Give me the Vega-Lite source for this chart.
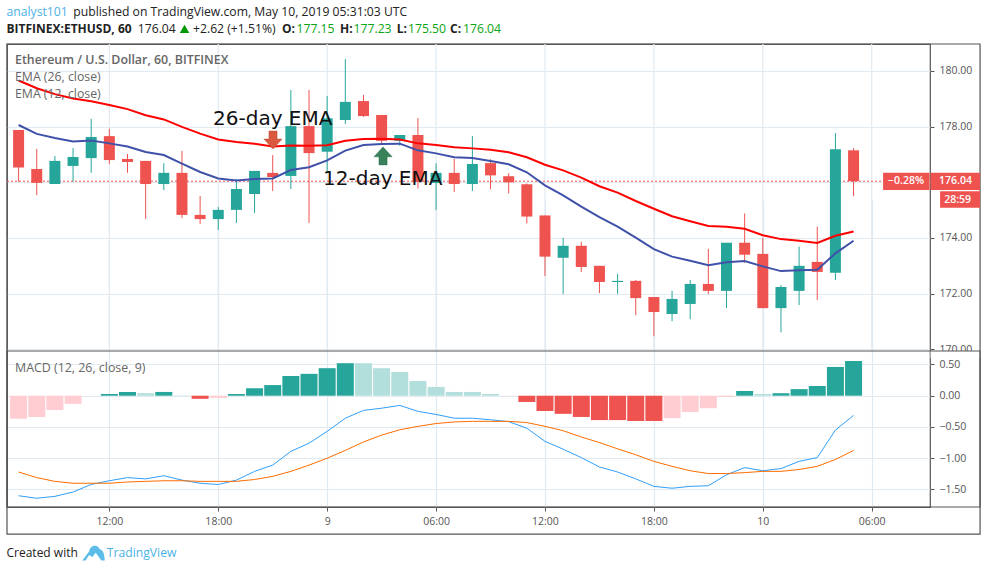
{"$schema":"https://vega.github.io/schema/vega-lite/v6.json","autosize":{"type":"none"},"width":923,"height":463,"padding":{"left":7,"top":44,"right":57,"bottom":64},"background":"white","config":{"view":{"stroke":"#555555","strokeWidth":1.2},"font":"Open Sans"},
"datasets":{
"hourly":[
{"h":7,"open":177.88,"close":176.53,"high":177.88,"low":176.02,"ema26":179.66,"ema12":178.06,"macd":-1.60,"signal":-1.22,"hist":-0.37,"phase":"rising-neg"},
{"h":8,"open":176.48,"close":175.98,"high":177.20,"low":175.54,"ema26":179.38,"ema12":177.74,"macd":-1.64,"signal":-1.31,"hist":-0.34,"phase":"rising-neg"},
{"h":9,"open":175.94,"close":176.77,"high":176.95,"low":175.94,"ema26":179.17,"ema12":177.59,"macd":-1.61,"signal":-1.37,"hist":-0.23,"phase":"rising-neg"},
{"h":10,"open":176.59,"close":176.91,"high":177.23,"low":176.02,"ema26":179.01,"ema12":177.47,"macd":-1.54,"signal":-1.40,"hist":-0.13,"phase":"rising-neg"},
{"h":11,"open":176.87,"close":177.63,"high":178.28,"low":176.34,"ema26":178.91,"ema12":177.50,"macd":-1.42,"signal":-1.40,"hist":0.0,"phase":"rising-neg"},
{"h":12,"open":177.66,"close":176.80,"high":177.92,"low":176.66,"ema26":178.78,"ema12":177.40,"macd":-1.36,"signal":-1.40,"hist":0.027,"phase":"rising-pos"},
{"h":13,"open":176.84,"close":176.73,"high":177.02,"low":176.34,"ema26":178.63,"ema12":177.29,"macd":-1.31,"signal":-1.38,"hist":0.06,"phase":"rising-pos"},
{"h":14,"open":176.77,"close":175.94,"high":176.77,"low":174.68,"ema26":178.41,"ema12":177.09,"macd":-1.33,"signal":-1.37,"hist":0.04,"phase":"falling-pos"},
{"h":15,"open":175.94,"close":176.34,"high":176.69,"low":175.72,"ema26":178.26,"ema12":176.98,"macd":-1.28,"signal":-1.36,"hist":0.06,"phase":"rising-pos"},
{"h":16,"open":176.34,"close":174.83,"high":177.13,"low":174.72,"ema26":177.99,"ema12":176.67,"macd":-1.35,"signal":-1.36,"hist":0.005,"phase":"falling-pos"},
{"h":17,"open":174.83,"close":174.68,"high":175.51,"low":174.50,"ema26":177.75,"ema12":176.37,"macd":-1.40,"signal":-1.37,"hist":-0.05,"phase":"falling-neg"},
{"h":18,"open":174.68,"close":175.01,"high":175.11,"low":174.29,"ema26":177.54,"ema12":176.14,"macd":-1.42,"signal":-1.37,"hist":-0.035,"phase":"rising-neg"},
{"h":19,"open":175.01,"close":175.76,"high":176.12,"low":174.54,"ema26":177.45,"ema12":176.07,"macd":-1.35,"signal":-1.37,"hist":0.027,"phase":"rising-pos"},
{"h":20,"open":175.58,"close":176.41,"high":176.41,"low":174.90,"ema26":177.39,"ema12":176.12,"macd":-1.21,"signal":-1.34,"hist":0.12,"phase":"rising-pos"},
{"h":21,"open":176.34,"close":176.19,"high":176.98,"low":175.69,"ema26":177.29,"ema12":176.14,"macd":-1.11,"signal":-1.29,"hist":0.17,"phase":"rising-pos"},
{"h":22,"open":176.23,"close":178.02,"high":179.32,"low":175.76,"ema26":177.32,"ema12":176.44,"macd":-0.89,"signal":-1.21,"hist":0.315,"phase":"rising-pos"},
{"h":23,"open":178.02,"close":177.05,"high":179.32,"low":174.54,"ema26":177.31,"ema12":176.54,"macd":-0.76,"signal":-1.11,"hist":0.35,"phase":"rising-pos"},
{"h":24,"open":177.10,"close":178.30,"high":179.10,"low":176.34,"ema26":177.33,"ema12":176.79,"macd":-0.57,"signal":-1.00,"hist":0.44,"phase":"rising-pos"},
{"h":25,"open":178.24,"close":178.89,"high":180.43,"low":178.10,"ema26":177.49,"ema12":177.14,"macd":-0.36,"signal":-0.875,"hist":0.52,"phase":"rising-pos"},
{"h":26,"open":178.92,"close":178.38,"high":179.14,"low":178.35,"ema26":177.56,"ema12":177.34,"macd":-0.235,"signal":-0.74,"hist":0.52,"phase":"falling-pos"},
{"h":27,"open":178.42,"close":177.49,"high":178.42,"low":177.38,"ema26":177.57,"ema12":177.38,"macd":-0.20,"signal":-0.63,"hist":0.44,"phase":"falling-pos"},
{"h":28,"open":177.49,"close":177.70,"high":177.70,"low":177.31,"ema26":177.54,"ema12":177.39,"macd":-0.155,"signal":-0.545,"hist":0.38,"phase":"falling-pos"},
{"h":29,"open":177.70,"close":176.02,"high":178.31,"low":175.78,"ema26":177.40,"ema12":177.15,"macd":-0.25,"signal":-0.49,"hist":0.235,"phase":"falling-pos"},
{"h":30,"open":175.98,"close":176.34,"high":176.68,"low":175.01,"ema26":177.34,"ema12":177.04,"macd":-0.30,"signal":-0.445,"hist":0.14,"phase":"falling-pos"},
{"h":31,"open":176.34,"close":175.94,"high":176.84,"low":175.65,"ema26":177.26,"ema12":176.90,"macd":-0.36,"signal":-0.42,"hist":0.06,"phase":"falling-pos"},
{"h":32,"open":175.94,"close":176.66,"high":177.66,"low":175.69,"ema26":177.22,"ema12":176.87,"macd":-0.36,"signal":-0.41,"hist":0.06,"phase":"falling-pos"},
{"h":33,"open":176.69,"close":176.25,"high":176.83,"low":175.75,"ema26":177.17,"ema12":176.77,"macd":-0.385,"signal":-0.41,"hist":0.027,"phase":"falling-pos"},
{"h":34,"open":176.22,"close":176.00,"high":176.33,"low":175.60,"ema26":177.08,"ema12":176.65,"macd":-0.415,"signal":-0.41,"hist":-0.003,"phase":"rising-neg"},
{"h":35,"open":175.93,"close":174.77,"high":175.96,"low":174.52,"ema26":176.90,"ema12":176.36,"macd":-0.52,"signal":-0.43,"hist":-0.10,"phase":"falling-neg"},
{"h":36,"open":174.81,"close":173.33,"high":174.81,"low":172.64,"ema26":176.63,"ema12":175.89,"macd":-0.73,"signal":-0.49,"hist":-0.245,"phase":"falling-neg"},
{"h":37,"open":173.29,"close":173.72,"high":174.01,"low":171.99,"ema26":176.43,"ema12":175.53,"macd":-0.855,"signal":-0.56,"hist":-0.29,"phase":"falling-neg"},
{"h":38,"open":173.72,"close":172.96,"high":173.87,"low":172.78,"ema26":176.17,"ema12":175.13,"macd":-0.99,"signal":-0.66,"hist":-0.34,"phase":"falling-neg"},
{"h":39,"open":173.00,"close":172.42,"high":173.00,"low":172.02,"ema26":175.86,"ema12":174.75,"macd":-1.14,"signal":-0.75,"hist":-0.39,"phase":"falling-neg"},
{"h":40,"open":172.42,"close":172.46,"high":172.71,"low":171.99,"ema26":175.63,"ema12":174.41,"macd":-1.22,"signal":-0.85,"hist":-0.39,"phase":"falling-neg"},
{"h":41,"open":172.46,"close":171.84,"high":172.49,"low":171.23,"ema26":175.33,"ema12":174.01,"macd":-1.33,"signal":-0.945,"hist":-0.405,"phase":"falling-neg"},
{"h":42,"open":171.88,"close":171.34,"high":171.88,"low":170.47,"ema26":175.05,"ema12":173.60,"macd":-1.45,"signal":-1.05,"hist":-0.405,"phase":"falling-neg"},
{"h":43,"open":171.27,"close":171.81,"high":172.10,"low":171.01,"ema26":174.78,"ema12":173.33,"macd":-1.48,"signal":-1.13,"hist":-0.36,"phase":"rising-neg"},
{"h":44,"open":171.63,"close":172.35,"high":172.49,"low":171.08,"ema26":174.60,"ema12":173.18,"macd":-1.45,"signal":-1.20,"hist":-0.26,"phase":"rising-neg"},
{"h":45,"open":172.35,"close":172.10,"high":173.61,"low":171.99,"ema26":174.43,"ema12":173.02,"macd":-1.44,"signal":-1.245,"hist":-0.20,"phase":"rising-neg"},
{"h":46,"open":172.10,"close":173.83,"high":173.83,"low":171.48,"ema26":174.40,"ema12":173.13,"macd":-1.265,"signal":-1.245,"hist":-0.02,"phase":"rising-neg"},
{"h":47,"open":173.83,"close":173.40,"high":174.88,"low":173.11,"ema26":174.33,"ema12":173.17,"macd":-1.15,"signal":-1.23,"hist":0.075,"phase":"rising-pos"},
{"h":48,"open":173.43,"close":171.48,"high":174.01,"low":171.48,"ema26":174.10,"ema12":172.98,"macd":-1.20,"signal":-1.21,"hist":0.027,"phase":"falling-pos"},
{"h":49,"open":171.48,"close":172.24,"high":172.31,"low":170.61,"ema26":173.96,"ema12":172.81,"macd":-1.165,"signal":-1.21,"hist":0.04,"phase":"rising-pos"},
{"h":50,"open":172.10,"close":173.00,"high":173.69,"low":171.59,"ema26":173.90,"ema12":172.84,"macd":-1.05,"signal":-1.18,"hist":0.105,"phase":"rising-pos"},
{"h":51,"open":173.14,"close":172.78,"high":174.41,"low":171.77,"ema26":173.82,"ema12":172.86,"macd":-0.99,"signal":-1.13,"hist":0.155,"phase":"rising-pos"},
{"h":52,"open":172.75,"close":177.19,"high":177.77,"low":172.49,"ema26":174.08,"ema12":173.45,"macd":-0.55,"signal":-1.02,"hist":0.46,"phase":"rising-pos"},
{"h":53,"open":177.15,"close":176.04,"high":177.23,"low":175.50,"ema26":174.23,"ema12":173.90,"macd":-0.315,"signal":-0.875,"hist":0.555,"phase":"rising-pos"}
],
"headerNormal":[
{"label":"analyst101","h":6.333,"p":182.12,"tone":"link"},
{"label":"published on TradingView.com, May 10, 2019 05:31:03 UTC","h":10.014,"p":182.12,"tone":"ink"},
{"label":"176.04","h":13.563,"p":181.51,"tone":"ink"},
{"label":"+2.62 (+1.51%)","h":16.609,"p":181.51,"tone":"ink"},
{"label":"177.15","h":22.311,"p":181.51,"tone":"quote"},
{"label":"177.23","h":25.453,"p":181.51,"tone":"quote"},
{"label":"175.50","h":28.454,"p":181.51,"tone":"quote"},
{"label":"176.04","h":31.484,"p":181.51,"tone":"quote"}
],
"headerBold":[
{"label":"BITFINEX:ETHUSD, 60","h":6.333,"p":181.51},
{"label":"O:","h":21.513,"p":181.51},
{"label":"H:","h":24.708,"p":181.51},
{"label":"L:","h":27.833,"p":181.51},
{"label":"C:","h":30.769,"p":181.51}
],
"legends":[
{"label":"EMA (26, close)","h":6.802,"p":179.78},
{"label":"EMA (12, close)","h":6.802,"p":179.17}
],
"notes":[
{"label":"26-day EMA","h":17.711,"p":178.28},
{"label":"12-day EMA","h":23.771,"p":176.12}
]
},
"encoding":{"x":{"field":"h","type":"quantitative","title":null,"scale":{"domain":[6.3611,57.2111],"nice":false,"zero":false,"padding":0},"axis":{"orient":"bottom","values":[12,18,24,30,36,42,48,54],"labelExpr":"datum.value%24==0 ? ''+(8+datum.value/24) : ((datum.value%24<10?'0':'')+(datum.value%24)+':00')","grid":true,"gridColor":"#e1eaf1","gridOpacity":1,"gridWidth":1.2,"domain":false,"tickColor":"#555555","tickSize":4,"labelColor":"#555555","labelFont":"Open Sans","labelFontSize":10.5,"labelPadding":5,"labelFlush":false,"labelOverlap":false}}},
"layer":[
{"layer":[
{"data":{"values":[{"h":6.3611,"h2":59.969,"p":180.97,"p2":163.36}]},"mark":{"type":"rect","fillOpacity":0,"stroke":"#555555","strokeWidth":1.2},"encoding":{"x2":{"field":"h2"},"y":{"field":"p","type":"quantitative","scale":{"domain":[169.94,180.97],"range":[307,0],"nice":false,"zero":false},"axis":{"orient":"right","title":null,"values":[170,172,174,176,178,180],"labelExpr":"datum.value==176 ? '' : format(datum.value,'.2f')","grid":true,"gridColor":"#e1eaf1","gridOpacity":1,"gridWidth":1.2,"domain":false,"tickColor":"#555555","tickSize":4,"labelColor":"#555555","labelFont":"Open Sans","labelFontSize":10.5,"labelPadding":5}},"y2":{"field":"p2"}}},
{"data":{"values":[{"h":12,"top":180.97,"bottom":169.94},{"h":18,"top":180.97,"bottom":169.94},{"h":24,"top":180.97,"bottom":169.94},{"h":30,"top":180.97,"bottom":169.94},{"h":36,"top":180.97,"bottom":169.94},{"h":42,"top":180.97,"bottom":169.94},{"h":48,"top":180.97,"bottom":169.94},{"h":54,"top":180.97,"bottom":169.94}]},"mark":{"type":"rule","stroke":"#e1eaf1","strokeWidth":1.2},"encoding":{"y":{"field":"top","type":"quantitative"},"y2":{"field":"bottom"}}},
{"data":{"values":[{"h":6.3611,"h2":54.626,"p":176.04}]},"mark":{"type":"rule","stroke":"#ef5350","strokeWidth":1,"strokeDash":[2,2]},"encoding":{"x2":{"field":"h2"},"y":{"field":"p","type":"quantitative"}}},
{"data":{"name":"hourly"},"mark":{"type":"rule","strokeWidth":1},"encoding":{"y":{"field":"low","type":"quantitative"},"y2":{"field":"high"},"color":{"condition":{"test":"datum.close>=datum.open","value":"#26a69a"},"value":"#ef5350"}}},
{"data":{"name":"hourly"},"mark":{"type":"bar","size":11,"orient":"vertical"},"encoding":{"y":{"field":"open","type":"quantitative"},"y2":{"field":"close"},"color":{"condition":{"test":"datum.close>=datum.open","value":"#26a69a"},"value":"#ef5350"}}},
{"data":{"name":"hourly"},"mark":{"type":"line","stroke":"#ff0000","strokeWidth":2},"encoding":{"y":{"field":"ema26","type":"quantitative"}}},
{"data":{"name":"hourly"},"mark":{"type":"line","stroke":"#3f51a8","strokeWidth":2},"encoding":{"y":{"field":"ema12","type":"quantitative"}}},
{"data":{"values":[{"h":21.016,"p":177.52}]},"mark":{"type":"point","filled":true,"shape":"M-0.45,-1L0.45,-1L0.45,-0.1L1,-0.1L0,1L-1,-0.1L-0.45,-0.1Z","size":324,"fill":"#d9583e","stroke":"#b84a34","strokeWidth":0.5,"opacity":1},"encoding":{"y":{"field":"p","type":"quantitative"}}},
{"data":{"values":[{"h":27.078,"p":176.95}]},"mark":{"type":"point","filled":true,"shape":"M-0.45,1L0.45,1L0.45,0.1L1,0.1L0,-1L-1,0.1L-0.45,0.1Z","size":324,"fill":"#38815a","stroke":"#2c6a49","strokeWidth":0.5,"opacity":1},"encoding":{"y":{"field":"p","type":"quantitative"}}},
{"data":{"name":"headerNormal"},"mark":{"type":"text","align":"left","baseline":"middle","font":"Open Sans","fontSize":12.2},"encoding":{"y":{"field":"p","type":"quantitative"},"text":{"field":"label"},"color":{"field":"tone","legend":null,"scale":{"domain":["link","ink","quote"],"range":["#4bb2e5","#222222","#0aa512"]}}}},
{"data":{"name":"headerBold"},"mark":{"type":"text","align":"left","baseline":"middle","font":"Open Sans","fontSize":12,"fontWeight":"bold","color":"#222222"},"encoding":{"y":{"field":"p","type":"quantitative"},"text":{"field":"label"}}},
{"data":{"values":[{"h":16.141,"p":181.51}]},"mark":{"type":"point","shape":"triangle-up","filled":true,"size":90,"fill":"#009900","opacity":1},"encoding":{"y":{"field":"p","type":"quantitative"}}},
{"data":{"values":[{"label":"Ethereum / U.S. Dollar, 60, BITFINEX","h":6.802,"p":180.40}]},"mark":{"type":"text","align":"left","baseline":"middle","font":"Open Sans","fontSize":12.4,"fontWeight":600,"color":"#666666"},"encoding":{"y":{"field":"p","type":"quantitative"},"text":{"field":"label"}}},
{"data":{"name":"legends"},"mark":{"type":"text","align":"left","baseline":"middle","font":"Open Sans","fontSize":12.3,"color":"#666666"},"encoding":{"y":{"field":"p","type":"quantitative"},"text":{"field":"label"}}},
{"data":{"name":"notes"},"mark":{"type":"text","align":"left","baseline":"middle","font":"DejaVu Sans","fontSize":20,"color":"#111111"},"encoding":{"y":{"field":"p","type":"quantitative"},"text":{"field":"label"}}},
{"data":{"values":[{"h":54.626,"h2":57.188,"p":176.34,"p2":175.72},{"h":57.243,"h2":59.969,"p":176.34,"p2":175.72},{"h":57.766,"h2":59.969,"p":175.68,"p2":175.09}]},"mark":{"type":"rect","fill":"#ef5350"},"encoding":{"x2":{"field":"h2"},"y":{"field":"p","type":"quantitative"},"y2":{"field":"p2"}}},
{"data":{"values":[{"label":"−0.28%","h":55.893,"p":176.03},{"label":"176.04","h":58.619,"p":176.03},{"label":"28:59","h":58.731,"p":175.38}]},"mark":{"type":"text","align":"center","baseline":"middle","font":"Open Sans","fontSize":10.5,"fontWeight":600,"color":"#ffffff"},"encoding":{"y":{"field":"p","type":"quantitative"},"text":{"field":"label"}}}
]},
{"layer":[
{"data":{"values":[{"h":57.243,"h2":59.936,"v":0.715,"v2":0.6}]},"mark":{"type":"rect","fill":"#ffffff"},"encoding":{"x2":{"field":"h2"},"y":{"field":"v","type":"quantitative","scale":{"domain":[-1.78,0.715],"range":[463,307],"nice":false,"zero":false},"axis":{"orient":"right","title":null,"values":[-1.5,-1,-0.5,0,0.5],"format":".2f","grid":true,"gridColor":"#e1eaf1","gridOpacity":1,"gridWidth":1.2,"domain":false,"tickColor":"#555555","tickSize":4,"labelColor":"#555555","labelFont":"Open Sans","labelFontSize":10.5,"labelPadding":5}},"y2":{"field":"v2"}}},
{"data":{"values":[{"h":6.3611,"h2":59.969,"v":0.715,"v2":-1.78}]},"mark":{"type":"rect","fillOpacity":0,"stroke":"#555555","strokeWidth":1.2},"encoding":{"x2":{"field":"h2"},"y":{"field":"v","type":"quantitative"},"y2":{"field":"v2"}}},
{"data":{"name":"hourly"},"mark":{"type":"bar","size":17,"orient":"vertical"},"encoding":{"y":{"field":"hist","type":"quantitative","stack":null},"color":{"field":"phase","legend":null,"scale":{"domain":["rising-pos","falling-pos","falling-neg","rising-neg"],"range":["#26a69a","#b2dfdb","#ef5350","#ffcdd2"]}}}},
{"data":{"name":"hourly"},"mark":{"type":"line","stroke":"#2f9ffb","strokeWidth":1},"encoding":{"y":{"field":"macd","type":"quantitative"}}},
{"data":{"name":"hourly"},"mark":{"type":"line","stroke":"#ff6d00","strokeWidth":1},"encoding":{"y":{"field":"signal","type":"quantitative"}}},
{"data":{"values":[{"label":"MACD (12, 26, close, 9)","h":6.802,"v":0.443}]},"mark":{"type":"text","align":"left","baseline":"middle","font":"Open Sans","fontSize":12.4,"color":"#666666"},"encoding":{"y":{"field":"v","type":"quantitative"},"text":{"field":"label"}}},
{"data":{"values":[{"label":"Created with","h":6.333,"v":-2.517}]},"mark":{"type":"text","align":"left","baseline":"middle","font":"Open Sans","fontSize":12,"color":"#222222"},"encoding":{"y":{"field":"v","type":"quantitative"},"text":{"field":"label"}}},
{"data":{"values":[{"label":"TradingView","h":11.854,"v":-2.517}]},"mark":{"type":"text","align":"left","baseline":"middle","font":"Open Sans","fontSize":12.2,"color":"#4bb2e5"},"encoding":{"y":{"field":"v","type":"quantitative"},"text":{"field":"label"}}},
{"data":{"values":[{"h":11.128,"v":-2.51}]},"mark":{"type":"point","filled":true,"shape":"M-1,0.7L-0.4,-0.1C-0.3,-0.7 0.4,-0.8 0.55,-0.3C0.8,-0.3 1,0.1 1,0.7L0.7,0.7L0.2,0L-0.1,0.4L-0.4,0.2L-0.7,0.7Z","size":500,"fill":"#5cbce8","opacity":1},"encoding":{"y":{"field":"v","type":"quantitative"}}}
]}
],
"resolve":{"scale":{"y":"independent","color":"independent"},"axis":{"y":"independent"}}
}
